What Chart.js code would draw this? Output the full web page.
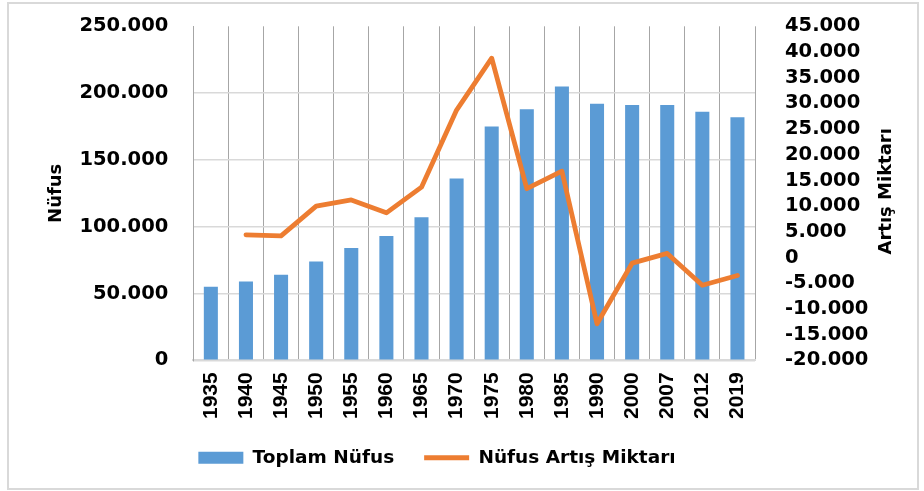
<!DOCTYPE html>
<html><head><meta charset="utf-8">
<script src="https://cdn.jsdelivr.net/npm/chart.js@4"></script>
<style>
html,body{margin:0;padding:0;background:#fff;}
#wrap{position:relative;width:924px;height:491px;}
#frame{position:absolute;left:7px;top:2px;width:908px;height:484px;border:2px solid #d9d9d9;pointer-events:none;}
</style></head><body>
<div id="wrap"><canvas id="c" width="924" height="491"></canvas><div id="frame"></div></div>
<script>
const years = ['1935','1940','1945','1950','1955','1960','1965','1970','1975','1980','1985','1990','2000','2007','2012','2019'];
const population = [55000, 59000, 64000, 74000, 84000, 93000, 107000, 136000, 175000, 188000, 205000, 192000, 191000, 191000, 186000, 182000];
const increase = [null, 4400, 4200, 10000, 11200, 8700, 13700, 28700, 38800, 13400, 16800, -12900, -1100, 800, -5400, -3500];
const seriesNames = ['Toplam Nüfus', 'Nüfus Artış Miktarı'];
const leftTitle = 'Nüfus';
const rightTitleText = 'Artış Miktarı';

const fmt = v => (v < 0 ? '-' : '') + Math.abs(v).toString().replace(/\B(?=(\d{3})+(?!\d))/g, '.');
const tickFont = {family: '"DejaVu Sans"', size: 19.5, weight: 'bold'};

const rightTitle = {
  id: 'rightTitle',
  afterDraw(chart) {
    const {ctx, chartArea} = chart;
    ctx.save();
    ctx.translate(886, (chartArea.top + chartArea.bottom) / 2 - 2);
    ctx.rotate(-Math.PI / 2);
    ctx.font = 'bold 18px "DejaVu Sans"';
    ctx.fillStyle = '#000';
    ctx.textAlign = 'center';
    ctx.textBaseline = 'middle';
    ctx.fillText(rightTitleText, 0, 0);
    ctx.restore();
  }
};

new Chart(document.getElementById('c'), {
  type: 'bar',
  data: {
    labels: years,
    datasets: [
      {type: 'bar', label: seriesNames[0], data: population, backgroundColor: '#5b9bd5', borderWidth: 0,
       yAxisID: 'y', order: 2, barPercentage: 0.4, categoryPercentage: 1, pointStyle: 'rect'},
      {type: 'line', label: seriesNames[1], data: increase, borderColor: '#ed7d31', backgroundColor: '#ed7d31',
       borderWidth: 4.8, pointRadius: 0, pointHoverRadius: 0, yAxisID: 'y1', order: 1, tension: 0,
       borderCapStyle: 'round', borderJoinStyle: 'round', pointStyle: 'line', spanGaps: false}
    ]
  },
  options: {
    responsive: false, animation: false, devicePixelRatio: 1,
    layout: {padding: {left: 5, right: 55, top: 26.3, bottom: 14}},
    plugins: {
      tooltip: {enabled: false},
      legend: {
        position: 'bottom', maxHeight: 73.5,
        labels: {usePointStyle: true, pointStyleWidth: 45, boxHeight: 12, padding: 30, color: '#000',
          font: {family: '"DejaVu Sans"', size: 18.5, weight: 'bold'},
          sort: (a, b) => a.datasetIndex - b.datasetIndex}
      }
    },
    scales: {
      x: {
        grid: {color: '#a6a6a6', lineWidth: 1, drawTicks: false, offset: true},
        border: {color: '#d9d9d9', width: 2},
        ticks: {maxRotation: 90, minRotation: 90, padding: 12, color: '#000', autoSkip: false,
          font: {family: '"Liberation Sans"', size: 21, weight: 'bold'}},
        afterFit: s => { s.height = 58.2; }
      },
      y: {
        position: 'left', min: 0, max: 250000,
        ticks: {stepSize: 50000, padding: 25, callback: v => fmt(v), color: '#000', font: tickFont, autoSkip: false},
        grid: {color: c => (c.tick && c.tick.value === 250000) ? 'rgba(0,0,0,0)' : '#d9d9d9', lineWidth: 1.5, drawTicks: false},
        border: {color: '#a6a6a6', width: 1},
        title: {display: true, text: leftTitle, padding: {top: 41, bottom: 0}, color: '#000',
          font: {family: '"DejaVu Sans"', size: 18, weight: 'bold'}},
        afterFit: s => { s.width = 188.3; s.paddingTop = 0; s.paddingBottom = 0; }
      },
      y1: {
        position: 'right', min: -20000, max: 45000,
        ticks: {stepSize: 5000, padding: 22, callback: v => fmt(v), color: '#000', font: tickFont, autoSkip: false},
        grid: {display: false, drawOnChartArea: false},
        border: {display: false},
        afterFit: s => { s.width = 114; s.paddingTop = 0; s.paddingBottom = 0; }
      }
    }
  },
  plugins: [rightTitle]
});
</script>
</body></html>
